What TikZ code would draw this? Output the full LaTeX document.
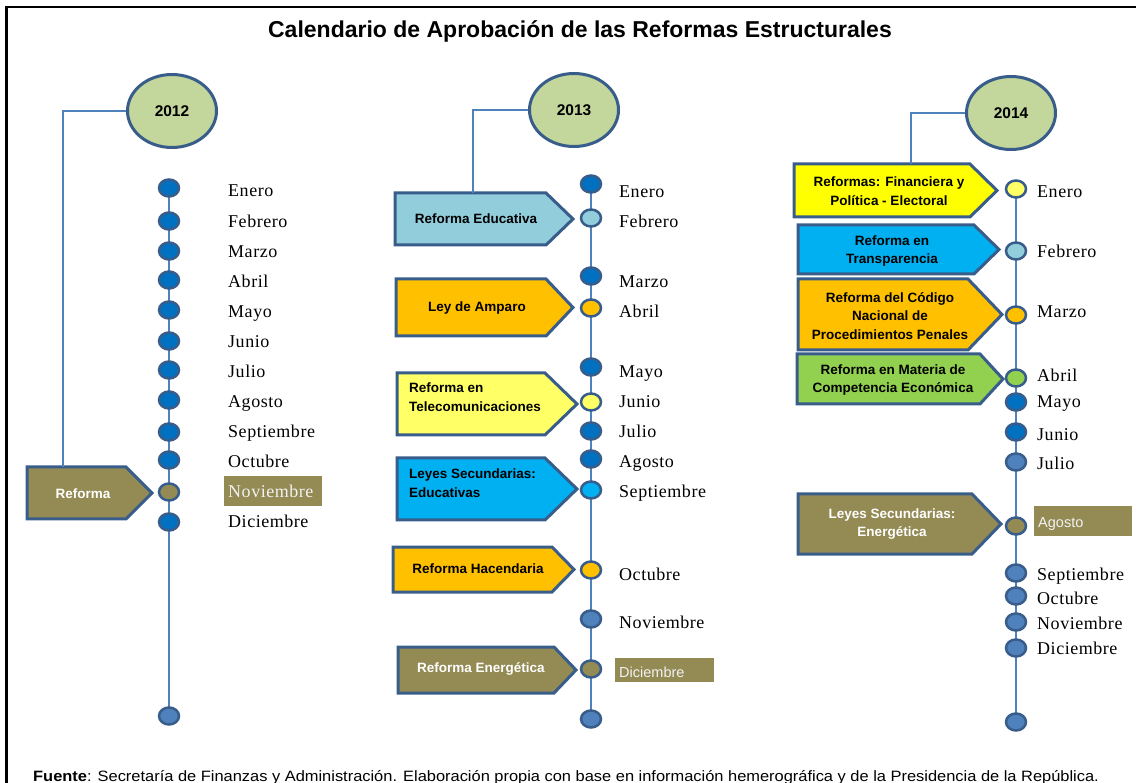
\documentclass[tikz,border=0pt]{standalone}
\usepackage{fontspec}
\setmainfont{Liberation Sans}
\newfontfamily\mserif[LetterSpace=3]{Liberation Serif}
\usetikzlibrary{shapes.geometric,backgrounds}
\definecolor{edge}{HTML}{385D8A}
\definecolor{lineb}{HTML}{4F81BD}
\definecolor{dkb}{HTML}{0070C0}
\definecolor{yrfill}{HTML}{C3D69B}
\definecolor{olive}{HTML}{948A54}
\definecolor{ltblue}{HTML}{92CDDC}
\definecolor{orng}{HTML}{FFC000}
\definecolor{ylw}{HTML}{FFFF66}
\definecolor{ylwb}{HTML}{FFFF00}
\definecolor{cyanb}{HTML}{00B0F0}
\definecolor{grn}{HTML}{92D050}
\definecolor{paleT}{HTML}{F2F2F2}
\tikzset{
  year/.style={ellipse, draw=edge, line width=3pt, fill=yrfill, minimum width=89pt, minimum height=73pt, inner sep=0pt, font=\fontsize{15.5}{18}\selectfont\bfseries},
  dot/.style={ellipse, draw=edge, line width=2.5pt, minimum width=20pt, minimum height=17pt, inner sep=0pt, fill=#1},
  month/.style={anchor=base west, inner sep=0pt, font=\mserif\fontsize{18}{21}\selectfont},
  hlmonth/.style={anchor=base west, inner sep=0pt, text=paleT, font=\fontsize{14.5}{17}\selectfont},
  hl/.style={fill=olive, inner sep=0pt, anchor=north west},
  tl/.style={draw=lineb, line width=1.6pt},
  conn/.style={draw=lineb, line width=1.3pt},
  boxtxt/.style={inner sep=0pt, align=center, font=\fontsize{13.5}{18.5}\selectfont\bfseries},
  abx/.style={draw=edge, line width=3pt, line join=miter, fill=#1},
  frame/.style={draw=black, line width=2.2pt}
}
% pentagon arrow box: x1, ytop, x of point start, x tip, ybottom, fill
\newcommand\arrbox[6]{\path[abx=#6] (#1,#2) -- (#3,#2) -- (#4,{(#2+#5)/2}) -- (#3,#5) -- (#1,#5) -- cycle;}
\begin{document}
\begin{tikzpicture}[x=1pt,y=-1pt]
\useasboundingbox (0,0) rectangle (1136,783);
\draw[frame] (6.5,783) -- (6.5,7) -- (1136,7);
\node[font=\fontsize{23}{27}\selectfont\bfseries, anchor=base, inner sep=0pt] (title) at (580,38) {Calendario de Aprobación de las Reformas Estructurales};

% ---------------- 2012 ----------------
\node[year] (y12) at (172,111) {2012};
\arrbox{27}{467}{126}{152}{519}{olive}
\node[boxtxt, text=white] (b12) at (83,494) {Reforma};
\coordinate (k12) at (63,467);
\draw[conn] (y12.west) -| (k12);
\foreach \n/\y/\c in {1/188/dkb,2/221/dkb,3/251/dkb,4/280/dkb,5/310/dkb,6/341/dkb,7/370/dkb,8/400/dkb,9/432/dkb,10/460/dkb,11/492/olive,12/522/dkb,13/716/lineb}
  {\node[dot=\c] (a\n) at (169,\y) {};}
\begin{scope}[on background layer]
  \draw[tl] (a1.center) -- (a13.center);
\end{scope}
\foreach \m/\y in {Enero/190.5,Febrero/221,Marzo/251,Abril/281,Mayo/311,Junio/341,Julio/371,Agosto/401,Septiembre/431,Octubre/461,Diciembre/521}
  {\node[month] (ma\m) at (228,\y+6.5) {\m};}
\node[hl, minimum width=98pt, minimum height=30pt] (h12) at (224,476) {};
\node[month, text=paleT] (maNoviembre) at (228,497.5) {Noviembre};

% ---------------- 2013 ----------------
\node[year] (y13) at (574,110) {2013};
\arrbox{395}{193}{546}{573}{245}{ltblue}
\node[boxtxt] (e13) at (476,219) {Reforma Educativa};
\arrbox{396}{279}{546}{573}{336}{orng}
\node[boxtxt] (am13) at (477,308) {Ley de Amparo};
\arrbox{397}{373}{545}{577}{435}{ylw}
\node[boxtxt, align=left, anchor=west] (tc13) at (409,397) {Reforma en\\Telecomunicaciones};
\arrbox{397}{458}{545}{577}{520}{cyanb}
\node[boxtxt, align=left, anchor=west] (ls13) at (409,483) {Leyes Secundarias:\\Educativas};
\arrbox{393}{547}{552}{574}{592}{orng}
\node[boxtxt] (hc13) at (478,569) {Reforma Hacendaria};
\arrbox{398}{647}{554}{576}{693}{olive}
\node[boxtxt, text=white] (en13) at (481,669) {Reforma Energética};
\coordinate (k13) at (473,193);
\draw[conn] (y13.west) -| (k13);
\foreach \n/\y/\c in {1/184/dkb,2/218/ltblue,3/276/dkb,4/308/orng,5/367/dkb,6/402/ylw,7/431/dkb,8/459/dkb,9/490/cyanb,10/570/orng,11/619/lineb,12/669/olive,13/719/lineb}
  {\node[dot=\c] (b\n) at (591,\y) {};}
\begin{scope}[on background layer]
  \draw[tl] (b1.center) -- (b13.center);
\end{scope}
\foreach \m/\y in {Enero/191,Febrero/221,Marzo/281.5,Abril/311.5,Mayo/371,Junio/401,Julio/431,Agosto/461,Septiembre/491,Octubre/574,Noviembre/622}
  {\node[month] (mb\m) at (619,\y+6.5) {\m};}
\node[hl, minimum width=99pt, minimum height=24pt] (h13) at (615,658) {};
\node[hlmonth] (mbDiciembre) at (619,677.5) {Diciembre};

% ---------------- 2014 ----------------
\node[year] (y14) at (1011,113) {2014};
\arrbox{794}{164}{970}{997}{217}{ylwb}
\node[boxtxt] (fp14) at (889,191) {Reformas: Financiera y\\Política - Electoral};
\arrbox{798}{225}{974}{999}{274}{cyanb}
\node[boxtxt] (tr14) at (892,251) {Reforma en\\Transparencia};
\arrbox{798}{279}{968}{1002}{350}{orng}
\node[boxtxt] (cn14) at (890,316) {Reforma del Código\\Nacional de\\Procedimientos Penales};
\arrbox{797}{354}{980}{1003}{404}{grn}
\node[boxtxt] (ce14) at (893,380) {Reforma en Materia de\\Competencia Económica};
\arrbox{798}{494}{972}{1001}{554}{olive}
\node[boxtxt, text=white] (le14) at (892,524) {Leyes Secundarias:\\Energética};
\coordinate (k14) at (911,164);
\draw[conn] (y14.west) -| (k14);
\foreach \n/\y/\c in {1/189/ylw,2/251/ltblue,3/315/orng,4/378/grn,5/402/dkb,6/432/dkb,7/462/lineb,8/526/olive,9/573/lineb,10/596/lineb,11/622/lineb,12/648/lineb,13/722/lineb}
  {\node[dot=\c] (c\n) at (1016,\y) {};}
\begin{scope}[on background layer]
  \draw[tl] (c1.center) -- (c13.center);
\end{scope}
\foreach \m/\y in {Enero/191,Febrero/251.5,Marzo/311,Abril/375,Mayo/401,Junio/434,Julio/463.5,Septiembre/574,Octubre/598,Noviembre/622.5,Diciembre/647.5}
  {\node[month] (mc\m) at (1037,\y+6.5) {\m};}
\node[hl, minimum width=98pt, minimum height=30pt] (h14) at (1034,506) {};
\node[hlmonth] (mcAgosto) at (1038,527.5) {Agosto};

% ---------------- footer ----------------
\node[anchor=base west, inner sep=0pt, font=\fontsize{15}{18}\selectfont] (src) at (33,781) {\scalebox{1.095}[1]{\textbf{Fuente}: Secretaría de Finanzas y Administración. Elaboración propia con base en información hemerográfica y de la Presidencia de la República.}};
\end{tikzpicture}
\end{document}
